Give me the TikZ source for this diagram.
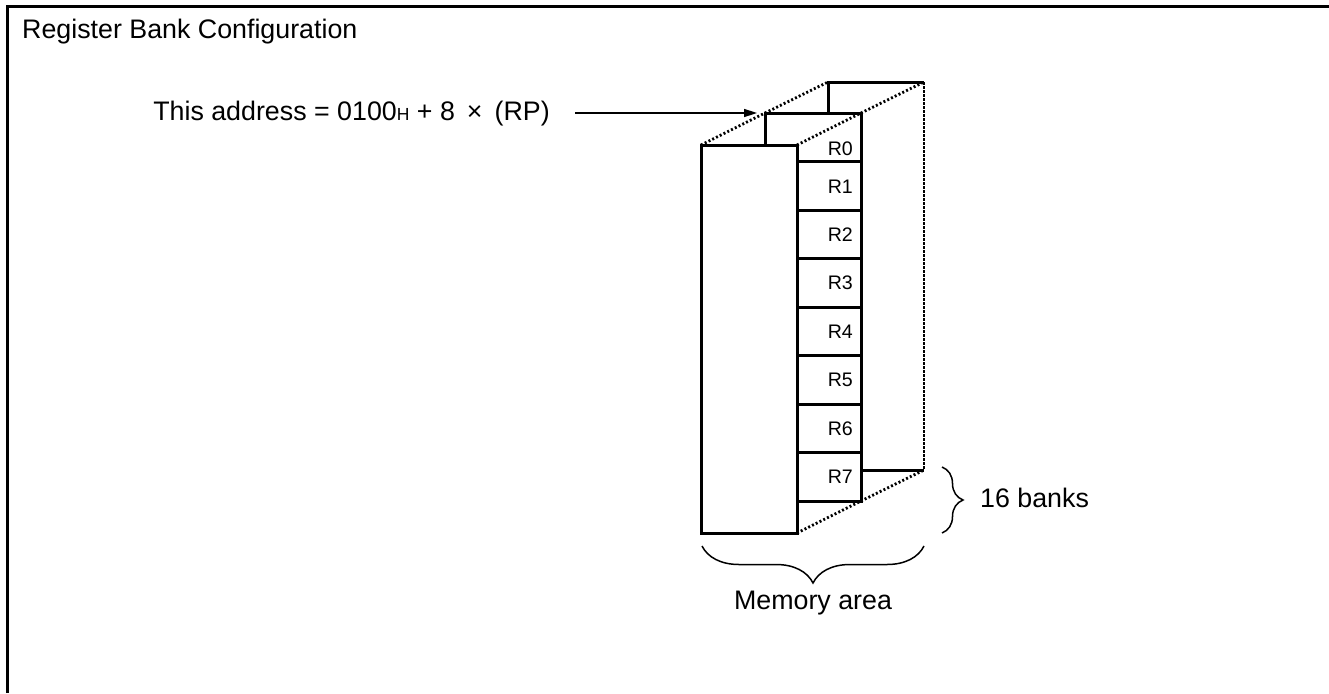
\documentclass[tikz,border=0pt]{standalone}
\usepackage{fontspec}
\setmainfont{Liberation Sans}
\usetikzlibrary{arrows.meta,decorations.pathreplacing}
\begin{document}
\begin{tikzpicture}[x=1pt,y=-1pt,
  boxline/.style={line width=3pt},
  dotline/.style={line width=2.8pt, dash pattern=on 2pt off 2.2pt},
  densedot/.style={line width=2.2pt, dash pattern=on 3pt off 1pt},
  thinline/.style={line width=1.5pt},
  lbl/.style={font=\fontsize{26.8}{32}\selectfont, inner sep=0pt},
  reg/.style={font=\fontsize{19.6}{23}\selectfont, inner sep=0pt, anchor=east},
  bracestyle/.style={thinline, decorate},
  ]
\useasboundingbox (0,0) rectangle (1329,693);
% frame
\draw[line width=3pt] (7,693) -- (7,7) -- (1329,7);
% title
\node[lbl, anchor=base west] (title) at (22,38) {Register Bank Configuration};
% back bank
\draw[boxline] (828,113) -- (828,82) -- (924,82);
\draw[densedot] (924,82) -- (924,470);
\draw[boxline] (861,470) -- (924,470);
% middle bank
\draw[boxline] (765,145) -- (765,113) -- (861,113) -- (861,501) -- (797,501);
\foreach \yy in {161.5,210,258.5,307,355.5,404,452.5}
  \draw[boxline] (797,\yy) -- (861,\yy);
% front bank
\draw[boxline, fill=white] (701,145) rectangle (797,533);
% dotted perspective lines
\draw[dotline] (701,145) -- (765,113) -- (828,82);
\draw[dotline] (797,145) -- (861,113) -- (924,82);
\draw[dotline] (797,533) -- (861,501) -- (924,470);
% register labels
\node[reg] (r0) at (853,148.5) {R0};
\node[reg] (r1) at (853,186.5) {R1};
\node[reg] (r2) at (853,234.5) {R2};
\node[reg] (r3) at (853,283) {R3};
\node[reg] (r4) at (853,331.5) {R4};
\node[reg] (r5) at (853,380) {R5};
\node[reg] (r6) at (853,428.5) {R6};
\node[reg] (r7) at (853,477) {R7};
% address annotation
\node[lbl, anchor=base east] (addr) at (550,120) {This address = 0100{\fontsize{17.5}{17.5}\selectfont H} + 8\hspace{0.45em}×\hspace{0.45em}(RP)};
\coordinate (astart) at (575,113);
\coordinate (aend) at (757,113);
\draw[thinline, -{Triangle[length=13pt,width=8pt]}] (astart) -- (aend);
% braces
\coordinate (hb1) at (702,546);
\coordinate (hb2) at (924,546);
\draw[bracestyle, decoration={brace, mirror, amplitude=37pt}] (hb1) -- (hb2);
\node[lbl, anchor=base] (mem) at (813,609) {Memory area};
\coordinate (vb1) at (942,467);
\coordinate (vb2) at (942,533);
\draw[bracestyle, decoration={brace, amplitude=21pt}] (vb1) -- (vb2);
\node[lbl, anchor=base west] (banks) at (980,507) {16 banks};
\end{tikzpicture}
\end{document}
